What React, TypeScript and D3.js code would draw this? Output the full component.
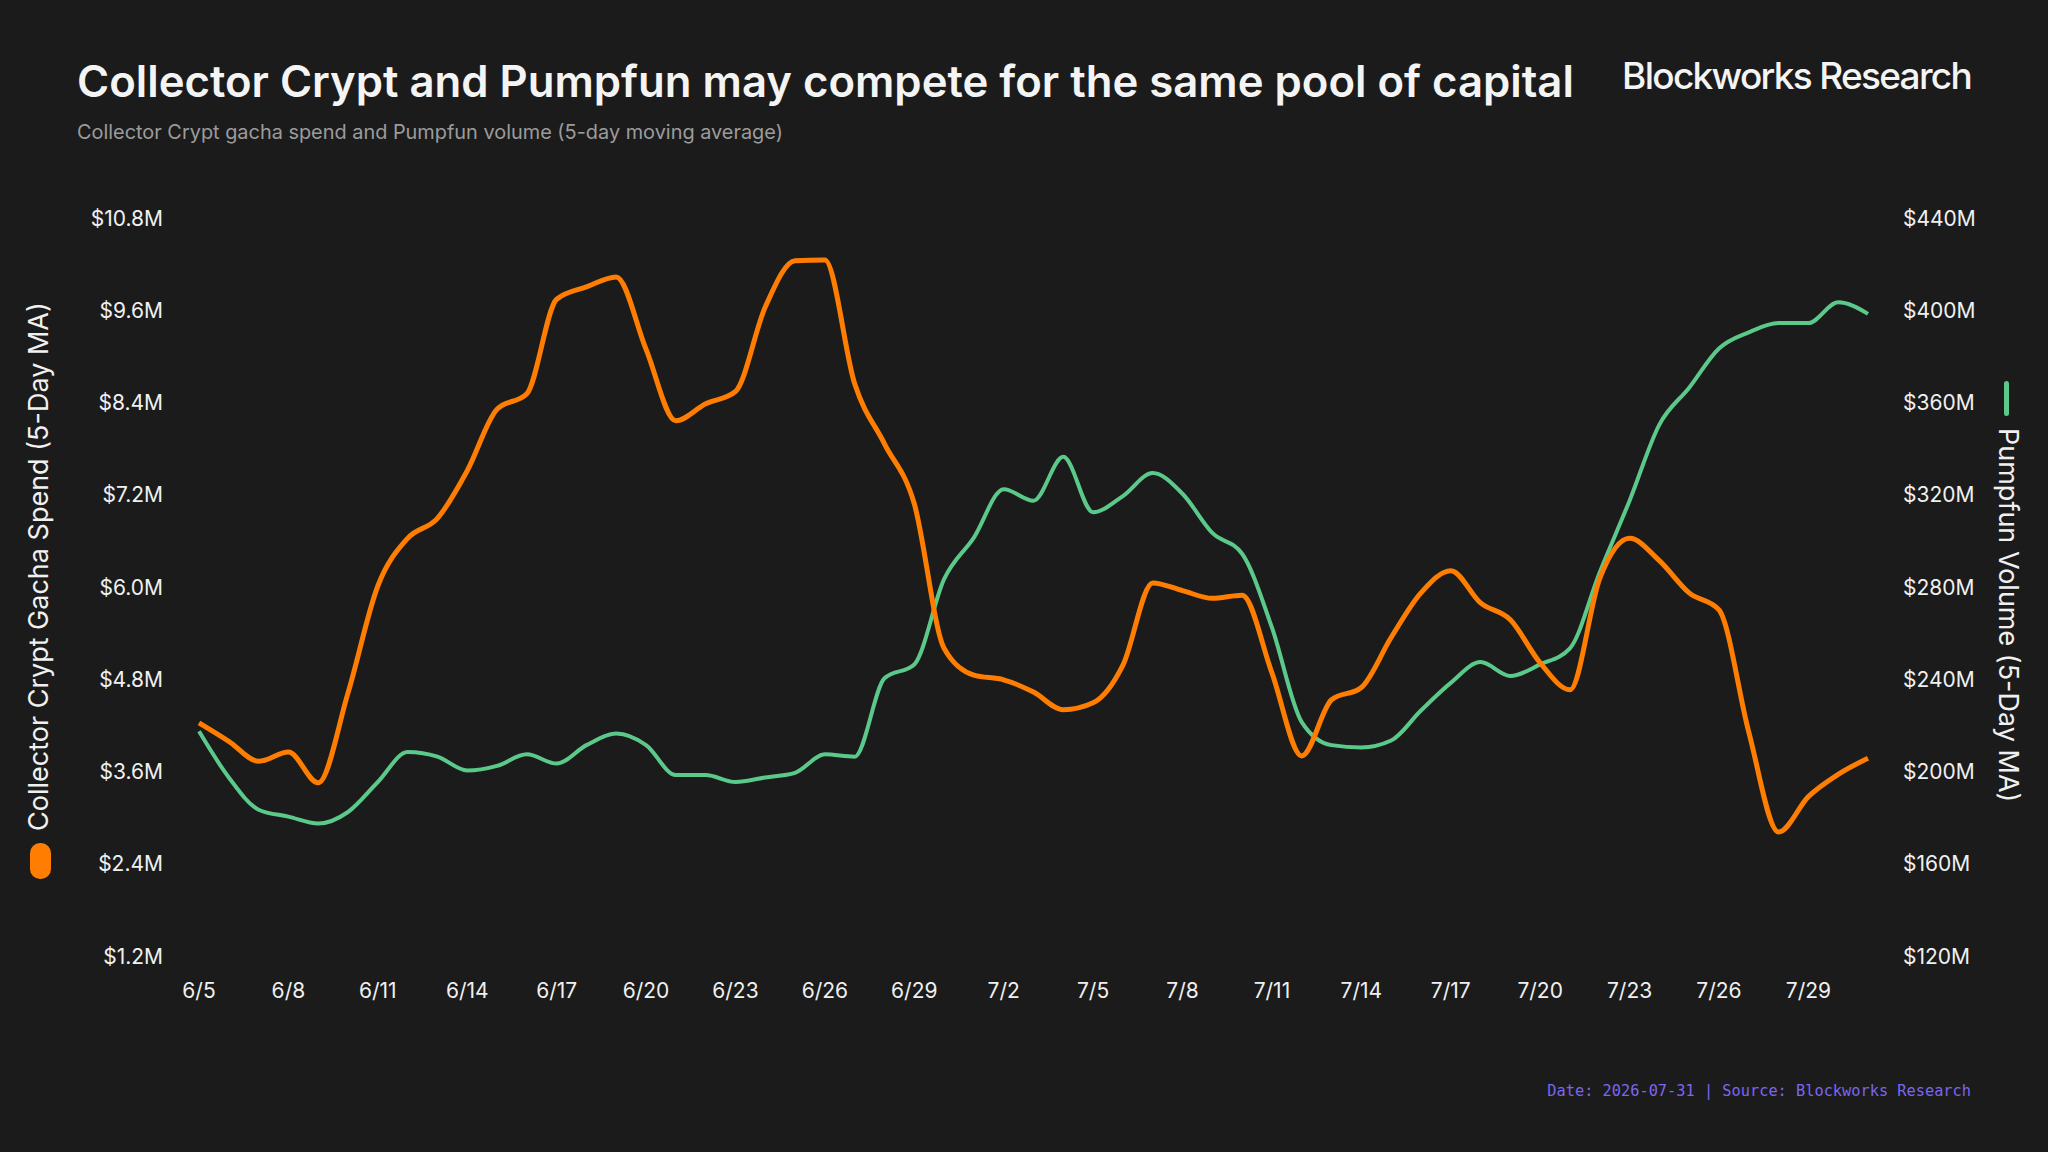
import { useEffect } from 'react';
import * as d3 from 'd3';

// 5-day moving averages, one value per day from 6/5 to 7/31
const startDate = new Date(2026, 5, 5);
const endDate = new Date(2026, 6, 31);

const gachaSpend = [
  4.22, 3.98, 3.72, 3.84, 3.44, 4.61, 6.0, 6.62, 6.88, 7.5,
  8.3, 8.5, 9.73, 9.89, 10.02, 9.08, 8.15, 8.37, 8.53, 9.63,
  10.23, 10.24, 8.63, 7.85, 7.07, 5.19, 4.84, 4.78, 4.62, 4.39,
  4.48, 4.97, 6.04, 5.94, 5.84, 5.88, 4.87, 3.79, 4.52, 4.68,
  5.33, 5.91, 6.2, 5.78, 5.56, 5.0, 4.65, 6.1, 6.62, 6.33,
  5.91, 5.69, 4.1, 2.8, 3.26, 3.55, 3.76,
];

const pumpfunVolume = [
  217, 197, 183, 180, 177, 182, 195, 208, 206, 200,
  202, 207, 203, 211, 216, 211, 198, 198, 195, 197,
  199, 207, 206, 240, 246, 283, 301, 322, 317, 336,
  312, 319, 329, 320, 303, 294, 262, 221, 211, 210,
  213, 226, 238, 247, 241, 246, 253, 286, 317, 350,
  366, 383, 390, 394, 394, 403, 398,
];

const xTickLabels = [
  '6/5', '6/8', '6/11', '6/14', '6/17', '6/20', '6/23', '6/26', '6/29', '7/2',
  '7/5', '7/8', '7/11', '7/14', '7/17', '7/20', '7/23', '7/26', '7/29',
];
const leftTicks = [1.2, 2.4, 3.6, 4.8, 6.0, 7.2, 8.4, 9.6, 10.8];
const rightTicks = [120, 160, 200, 240, 280, 320, 360, 400, 440];

const ORANGE = '#ff7d00';
const GREEN = '#5bc98a';
const BG = '#1b1b1b';
const FONT = 'Inter, "Noto Sans", sans-serif';

export default function App() {
  useEffect(() => {
    document.body.style.margin = '0';
    document.body.style.background = BG;
  }, []);

  const width = 2048;
  const height = 1152;

  const dates = d3.timeDay.range(startDate, d3.timeDay.offset(endDate, 1));

  const x = d3.scaleTime().domain([startDate, endDate]).range([199, 1868]);
  const yLeft = d3.scaleLinear().domain([1.2, 10.8]).range([955, 217]);
  const yRight = d3.scaleLinear().domain([120, 440]).range([955, 217]);

  const parseTick = (s: string) => {
    const [m, d] = s.split('/').map(Number);
    return new Date(2026, m - 1, d);
  };

  const orangeLine = d3.line<number>()
    .x((_, i) => x(dates[i]))
    .y(d => yLeft(d))
    .curve(d3.curveMonotoneX);

  const greenLine = d3.line<number>()
    .x((_, i) => x(dates[i]))
    .y(d => yRight(d))
    .curve(d3.curveMonotoneX);

  return (
    <div style={{ position: 'fixed', left: 0, top: 0, width, height, background: BG }}>
      <svg width={width} height={height} style={{ display: 'block' }} fontFamily={FONT}>
        <rect width={width} height={height} fill={BG} />

        {/* Title block */}
        <text x={77} y={97} fill="#f4f4f4" fontSize={43.7} fontWeight={600}>
          Collector Crypt and Pumpfun may compete for the same pool of capital
        </text>
        <text x={77} y={139} fill="#9b9b9b" fontSize={19.9}>
          Collector Crypt gacha spend and Pumpfun volume (5-day moving average)
        </text>
        <text x={1971} y={89} fill="#f4f4f4" fontSize={37} fontWeight={500}
          textAnchor="end" letterSpacing={-1.7}>
          Blockworks Research
        </text>

        {/* Left axis */}
        {leftTicks.map(t => (
          <text key={'l' + t} x={163} y={yLeft(t) + 3} fill="#f0f0f0" fontSize={21}
            textAnchor="end" dominantBaseline="middle">
            {`$${t.toFixed(1)}M`}
          </text>
        ))}

        {/* Right axis */}
        {rightTicks.map(t => (
          <text key={'r' + t} x={1903} y={yRight(t) + 3} fill="#f0f0f0" fontSize={21}
            textAnchor="start" dominantBaseline="middle">
            {`$${t}M`}
          </text>
        ))}

        {/* X axis */}
        {xTickLabels.map(s => (
          <text key={s} x={x(parseTick(s))} y={992} fill="#f0f0f0" fontSize={21}
            textAnchor="middle" dominantBaseline="middle">
            {s}
          </text>
        ))}

        {/* Lines */}
        <path d={greenLine(pumpfunVolume) ?? ''} fill="none" stroke={GREEN}
          strokeWidth={4} strokeLinejoin="round" />
        <path d={orangeLine(gachaSpend) ?? ''} fill="none" stroke={ORANGE}
          strokeWidth={5} strokeLinejoin="round" />

        {/* Left legend / axis title */}
        <rect x={30} y={843} width={21} height={36} rx={10} fill={ORANGE} />
        <text transform="translate(41,831) rotate(-90)" fill="#f0f0f0" fontSize={27}
          dominantBaseline="middle">
          Collector Crypt Gacha Spend (5-Day MA)
        </text>

        {/* Right legend / axis title */}
        <rect x={2004} y={381} width={5} height={35} rx={2.5} fill={GREEN} />
        <text transform="translate(2006,428) rotate(90)" fill="#f0f0f0" fontSize={27}
          dominantBaseline="middle">
          Pumpfun Volume (5-Day MA)
        </text>

        {/* Footer */}
        <text x={1971} y={1091} fill="#7b66f0" fontSize={15.3}
          fontFamily='"DejaVu Sans Mono", "Liberation Mono", monospace'
          textAnchor="end" dominantBaseline="middle">
          Date: 2026-07-31 | Source: Blockworks Research
        </text>
      </svg>
    </div>
  );
}
